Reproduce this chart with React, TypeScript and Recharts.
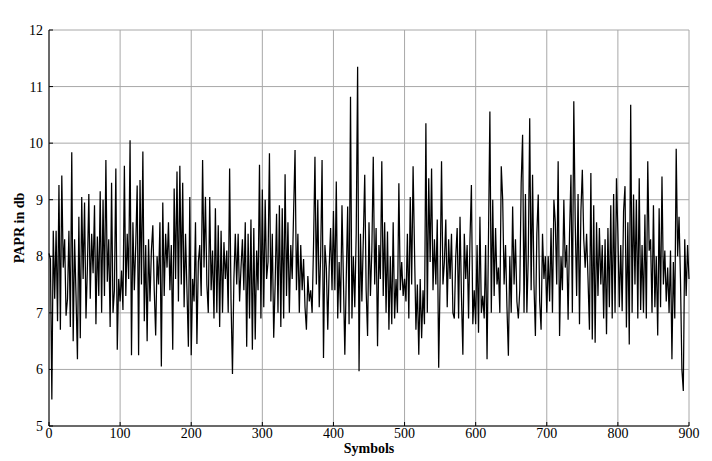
import { LineChart, Line, XAxis, YAxis, CartesianGrid } from 'recharts';

const TITLE = 'Basic OFDM PAPR';
const X_LABEL = 'Symbols';
const Y_LABEL = 'PAPR in db';

const X_TICKS = [0, 100, 200, 300, 400, 500, 600, 700, 800, 900];
const Y_TICKS = [5, 6, 7, 8, 9, 10, 11, 12];

// one value every 2 symbols
const SYMBOL_STEP = 2;

const PAPR_0_100 = [
  8.05, 7.95, 5.47, 8.45, 7.25, 8.45, 6.85, 9.26, 6.7, 9.43,
  7.8, 8.3, 6.95, 7.25, 8.45, 6.75, 9.84, 6.5, 8.3, 7.3,
  6.18, 8.7, 6.55, 9.05, 7.6, 8.95, 6.9, 7.8, 9.1, 7.25,
  8.4, 7.7, 8.9, 6.8, 8.35, 7.3, 9.15, 7.0, 9.0, 7.3,
  9.7, 7.55, 8.3, 6.75, 9.3, 7.0, 7.4, 9.55, 6.35, 7.6,
];
const PAPR_100_200 = [
  7.2, 7.75, 7.05, 9.6, 7.3, 8.4, 7.6, 10.05, 6.25, 8.6,
  7.4, 8.2, 9.25, 6.25, 9.35, 7.5, 9.85, 6.85, 8.2, 6.5,
  8.3, 7.2, 8.1, 8.55, 7.4, 6.6, 8.0, 7.5, 8.6, 6.05,
  8.95, 7.3, 8.4, 7.8, 8.6, 7.4, 8.2, 6.35, 9.2, 7.6,
  9.5, 7.2, 9.6, 7.5, 9.3, 7.1, 8.4, 7.4, 6.4, 9.05,
];
const PAPR_200_300 = [
  6.25, 7.6, 7.2, 8.6, 6.45, 7.9, 8.2, 7.3, 9.7, 7.8,
  9.05, 7.5, 7.0, 9.05, 7.4, 8.1, 6.9, 8.85, 7.0, 8.55,
  6.75, 8.45, 7.0, 8.25, 7.6, 8.1, 7.0, 9.55, 7.2, 5.92,
  7.6, 8.4, 7.5, 8.4, 7.2, 7.8, 8.3, 7.4, 8.6, 6.4,
  8.4, 6.9, 8.65, 6.35, 8.5, 6.53, 8.1, 7.4, 9.62, 6.9,
];
const PAPR_300_400 = [
  9.18, 7.1, 9.0, 7.6, 7.9, 9.82, 7.2, 8.4, 6.56, 7.5,
  8.75, 7.0, 8.9, 6.75, 8.85, 6.9, 9.45, 7.3, 8.6, 7.0,
  8.2, 7.6, 8.8, 9.88, 7.4, 8.4, 7.0, 8.2, 7.4, 7.95,
  7.1, 6.7, 7.65, 7.2, 7.4, 7.0, 8.2, 9.76, 7.5, 9.0,
  7.1, 8.0, 9.7, 6.2, 8.2, 7.8, 6.7, 7.8, 8.5, 7.4,
];
const PAPR_400_500 = [
  8.8, 7.4, 9.32, 6.9, 7.9, 7.0, 8.9, 7.6, 6.26, 7.6,
  8.88, 6.8, 10.82, 6.9, 8.0, 7.1, 8.4, 11.35, 5.97, 8.4,
  7.2, 8.3, 9.44, 7.4, 6.59, 8.6, 7.3, 8.1, 9.76, 7.5,
  8.5, 6.41, 8.2, 7.6, 9.68, 7.3, 8.6, 7.0, 8.44, 6.7,
  8.0, 6.8, 8.6, 6.9, 7.6, 7.0, 9.29, 7.4, 7.9, 7.3,
];
const PAPR_500_600 = [
  7.6, 7.2, 8.4, 6.9, 9.05, 7.5, 9.59, 8.1, 6.7, 7.5,
  6.26, 7.6, 6.55, 7.4, 6.8, 10.35, 7.0, 9.38, 7.9, 9.55,
  7.4, 8.3, 7.5, 8.65, 6.03, 7.6, 9.68, 7.5, 7.9, 8.65,
  7.1, 8.3, 7.6, 8.4, 7.0, 6.9, 8.0, 8.5, 6.9, 8.7,
  7.3, 6.26, 8.4, 7.6, 8.2, 6.9, 8.3, 9.26, 6.8, 7.4,
];
const PAPR_600_700 = [
  6.8, 8.2, 6.65, 8.7, 7.0, 7.3, 6.9, 8.2, 6.18, 8.3,
  10.56, 7.0, 9.0, 7.3, 8.5, 7.5, 7.8, 7.0, 9.59, 9.0,
  7.5, 8.2, 7.1, 6.24, 8.0, 7.0, 8.88, 7.5, 8.3, 7.2,
  6.9, 7.4, 9.3, 10.15, 7.0, 9.1, 7.0, 8.0, 10.44, 7.4,
  9.44, 7.5, 6.59, 8.4, 9.09, 7.2, 6.7, 8.4, 7.6, 8.0,
];
const PAPR_700_800 = [
  7.0, 8.0, 7.2, 8.5, 7.0, 9.0, 8.6, 7.5, 9.68, 6.59,
  8.0, 7.4, 9.0, 7.8, 8.2, 6.88, 8.4, 9.44, 7.0, 10.74,
  8.6, 7.3, 9.1, 6.8, 8.8, 9.53, 8.3, 7.8, 8.4, 7.6,
  6.7, 9.47, 6.53, 8.9, 6.47, 8.6, 7.3, 8.5, 7.5, 8.2,
  6.9, 8.3, 6.62, 8.5, 7.1, 8.9, 6.9, 9.1, 7.0, 9.38,
];
const PAPR_800_900 = [
  8.4, 7.1, 8.2, 7.03, 8.8, 9.24, 6.74, 8.6, 6.44, 10.68,
  7.0, 9.09, 7.5, 9.0, 6.9, 9.38, 7.05, 8.2, 7.0, 8.74,
  6.9, 9.68, 8.1, 8.3, 7.0, 8.9, 7.1, 8.0, 6.6, 8.85,
  7.1, 9.41, 7.5, 8.1, 7.2, 7.8, 7.0, 8.1, 6.18, 7.9,
  6.9, 9.9, 8.0, 8.7, 7.6, 6.0, 5.62, 8.3, 7.3, 8.2,
  7.6,
];

const PAPR_DB = [
  ...PAPR_0_100,
  ...PAPR_100_200,
  ...PAPR_200_300,
  ...PAPR_300_400,
  ...PAPR_400_500,
  ...PAPR_500_600,
  ...PAPR_600_700,
  ...PAPR_700_800,
  ...PAPR_800_900,
];

const data = PAPR_DB.map((papr, i) => ({ symbol: i * SYMBOL_STEP, papr }));

const FONT = '"Liberation Serif", "Times New Roman", serif';
const tickStyle = { fill: '#000', fontSize: 14, fontFamily: FONT };
const labelStyle = { fill: '#000', fontSize: 14, fontWeight: 'bold', fontFamily: FONT };

export default function App() {
  return (
    <div style={{ position: 'absolute', left: 0, top: 0, width: 712, height: 461, background: '#fff' }}>
      <LineChart
        width={712}
        height={461}
        data={data}
        margin={{ top: 30, right: 23, left: 19, bottom: 15 }}
      >
        <CartesianGrid stroke="#a8a8a8" strokeWidth={1} />

        {/* bottom axis with labels */}
        <XAxis
          dataKey="symbol"
          type="number"
          domain={[0, 900]}
          ticks={X_TICKS}
          interval={0}
          height={20}
          axisLine={{ stroke: '#000' }}
          tickLine={{ stroke: '#000' }}
          tickSize={-4}
          tickMargin={6}
          tick={tickStyle}
          label={{ value: X_LABEL, position: 'bottom', offset: -3, style: labelStyle }}
        />
        {/* top frame + title */}
        <XAxis
          xAxisId="top"
          orientation="top"
          dataKey="symbol"
          type="number"
          domain={[0, 900]}
          ticks={X_TICKS}
          interval={0}
          height={0}
          axisLine={{ stroke: '#000' }}
          tickLine={{ stroke: '#000' }}
          tickSize={-4}
          tick={false}
          label={{ value: TITLE, position: 'top', offset: 10, style: labelStyle }}
        />

        <YAxis
          type="number"
          domain={[5, 12]}
          ticks={Y_TICKS}
          interval={0}
          width={30}
          axisLine={{ stroke: '#000' }}
          tickLine={{ stroke: '#000' }}
          tickSize={-4}
          tickMargin={10}
          tick={tickStyle}
          label={{ value: Y_LABEL, angle: -90, position: 'insideLeft', offset: 0, style: { ...labelStyle, textAnchor: 'middle' } }}
        />
        <YAxis
          yAxisId="right"
          orientation="right"
          type="number"
          domain={[5, 12]}
          ticks={Y_TICKS}
          interval={0}
          width={0}
          axisLine={{ stroke: '#000' }}
          tickLine={{ stroke: '#000' }}
          tickSize={-4}
          tick={false}
        />

        <Line
          type="linear"
          dataKey="papr"
          stroke="#000"
          strokeWidth={1.25}
          dot={false}
          isAnimationActive={false}
        />
      </LineChart>
    </div>
  );
}
